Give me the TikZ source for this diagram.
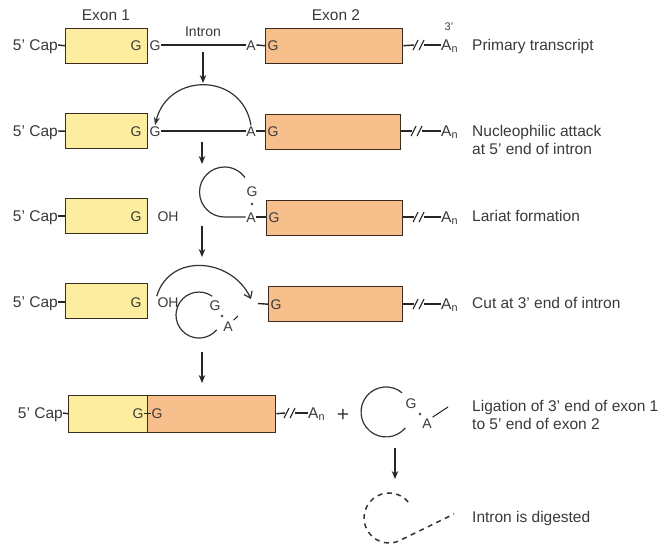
\documentclass[tikz,border=0pt]{standalone}
\usepackage{fontspec}
\setmainfont{Liberation Sans}
\usetikzlibrary{arrows.meta}
\definecolor{exonone}{HTML}{FCEE9E}
\definecolor{exontwo}{HTML}{F7BF8C}
\definecolor{boxline}{HTML}{3A2C1E}
\definecolor{txt}{HTML}{3A3A3A}
\begin{document}
\begin{tikzpicture}[x=1pt,y=-1pt,
  exa/.style={draw=boxline,line width=1.4pt,fill=exonone,minimum height=35pt,inner sep=0pt,anchor=north west},
  exb/.style={draw=boxline,line width=1.4pt,fill=exontwo,minimum height=35pt,inner sep=0pt,anchor=north west},
  lbl/.style={font=\fontsize{15.5}{18}\selectfont,text=txt,inner sep=0pt,text height=10.8pt,text depth=0pt},
  lbltwo/.style={font=\fontsize{15.5}{18}\selectfont,text=txt,inner sep=0pt,align=left,anchor=west},
  sym/.style={font=\fontsize{14}{16}\selectfont,text=txt,inner sep=0.6pt,text height=10pt,text depth=0pt},
  ln/.style={draw=black!85,line width=1.4pt},
  arr/.style={ln,-{Stealth[length=8pt,width=6.5pt]}},
  curv/.style={draw=black!80,line width=1.2pt},
  brk/.pic={\draw[draw=black!85,line width=1.1pt] (-1,5) -- (4,-5) (5,5) -- (10,-5);},
  dotmark/.style={fill=txt}
]
\fill[white] (0,0) rectangle (668,547);
\useasboundingbox (0,0) rectangle (668,547);

% ---------- Row 1 ----------
\node[lbl] (xa) at (106,15) {Exon 1};
\node[lbl] (xb) at (336,15) {Exon 2};
\node[exa,minimum width=82pt] (e1a) at (65,27.5) {};
\node[exb,minimum width=137pt] (e2a) at (265,27.5) {};
\node[lbl,anchor=east] (c1) at (58,45) {5' Cap};
\draw[ln] (c1.east) -- (e1a.west);
\node[sym] (gi1) at (136,45) {G};
\node[sym] (go1) at (155,45) {G};
\node[sym] (a1) at (251,45) {A};
\node[sym] (gj1) at (273,45) {G};
\node[lbl,font=\fontsize{14}{16}\selectfont] (intr) at (203,31) {Intron};
\draw[ln] (go1.east) -- (a1.west);
\draw[ln] (a1.east) -- (e2a.west);
\coordinate (b1) at (414,45);
\coordinate (b1r) at (424,45);
\node[lbl,anchor=west] (an1) at (441,45) {A\textsubscript{n}};
\draw[ln] (e2a.east) -- (b1);
\pic at (b1) {brk};
\draw[ln] (b1r) -- (an1.west);
\node[sym,font=\fontsize{11}{12}\selectfont] (p3) at (449,25) {3'};
\node[lbl,anchor=west] (t1) at (472,45) {Primary transcript};
\coordinate (d1a) at (203,52);
\coordinate (d1b) at (203,83);
\draw[arr] (d1a) -- (d1b);

% ---------- Row 2 ----------
\node[exa,minimum width=82pt] (e1b) at (65,113) {};
\node[exb,minimum width=135pt] (e2b) at (265,114) {};
\node[lbl,anchor=east] (c2) at (58,131) {5' Cap};
\draw[ln] (c2.east) -- (e1b.west);
\node[sym] (gi2) at (136,131) {G};
\node[sym] (go2) at (155,131) {G};
\node[sym] (a2) at (251,131) {A};
\node[sym] (gj2) at (273,131) {G};
\draw[ln] (go2.east) -- (a2.west);
\draw[ln] (a2.east) -- (e2b.west |- a2);
\draw[curv,-{Stealth[length=8pt,width=6pt]}] (a2.north) .. controls (242,72) and (168,72) .. (go2.north);
\coordinate (b2) at (412,131);
\coordinate (b2r) at (422,131);
\node[lbl,anchor=west] (an2) at (441,131) {A\textsubscript{n}};
\draw[ln] (e2b.east |- b2) -- (b2);
\pic at (b2) {brk};
\draw[ln] (b2r) -- (an2.west);
\node[lbltwo] (t2) at (472,140) {Nucleophilic attack\\at 5' end of intron};
\coordinate (d2a) at (202,142);
\coordinate (d2b) at (202,164);
\draw[arr] (d2a) -- (d2b);

% ---------- Row 3 ----------
\node[exa,minimum width=82pt] (e1c) at (65,198) {};
\node[exb,minimum width=136pt] (e2c) at (266,200) {};
\node[lbl,anchor=east] (c3) at (58,216) {5' Cap};
\draw[ln] (c3.east) -- (e1c.west |- c3);
\node[sym] (gi3) at (136,216) {G};
\node[sym] (oh3) at (168,216) {OH};
\node[sym] (a3) at (251,217) {A};
\node[sym] (gj3) at (274,217) {G};
\draw[ln] (a3.east) -- (e2c.west |- a3);
\draw[curv] (a3.west) -- ++(-21,0) arc[start angle=90,end angle=325,radius=25];
\node[sym] (gl3) at (252,191) {G};
\fill[dotmark] (252,204) circle (1.3pt);
\coordinate (b3) at (414,217);
\coordinate (b3r) at (424,217);
\node[lbl,anchor=west] (an3) at (441,217) {A\textsubscript{n}};
\draw[ln] (e2c.east |- b3) -- (b3);
\pic at (b3) {brk};
\draw[ln] (b3r) -- (an3.west);
\node[lbl,anchor=west] (t3) at (472,216) {Lariat formation};
\coordinate (d3a) at (202,226);
\coordinate (d3b) at (202,257);
\draw[arr] (d3a) -- (d3b);

% ---------- Row 4 ----------
\node[exa,minimum width=82pt] (e1d) at (65,283) {};
\node[exb,minimum width=134pt] (e2d) at (268,286) {};
\node[lbl,anchor=east] (c4) at (58,302) {5' Cap};
\draw[ln] (c4.east) -- (e1d.west |- c4);
\node[sym] (gi4) at (136,302) {G};
\node[sym] (oh4) at (168,302) {OH};
\node[sym] (gj4) at (276,304) {G};
\coordinate (cut4) at (258,303.5);
\draw[ln] (cut4) -- (e2d.west);
\coordinate (hit4) at (251,299);
\draw[curv,-{Straight Barb[length=6pt,width=9pt]}] (oh4.north west) .. controls (170,252) and (232,258) .. (hit4);
\draw[curv] (212.2,296.2) arc[start angle=-55,end angle=-320,radius=23];
\node[sym] (gl4) at (215,305) {G};
\fill[dotmark] (222,316) circle (1.3pt);
\node[sym] (al4) at (228,326) {A};
\coordinate (tk4) at (238,316);
\draw[ln,line width=1pt] (al4.north east) -- (tk4);
\coordinate (b4) at (414,304);
\coordinate (b4r) at (424,304);
\node[lbl,anchor=west] (an4) at (441,304) {A\textsubscript{n}};
\draw[ln] (e2d.east |- b4) -- (b4);
\pic at (b4) {brk};
\draw[ln] (b4r) -- (an4.west);
\node[lbl,anchor=west] (t4) at (472,303) {Cut at 3' end of intron};
\coordinate (d4a) at (202,352);
\coordinate (d4b) at (202,383);
\draw[arr] (d4a) -- (d4b);

% ---------- Row 5 ----------
\node[exa,minimum width=79pt,minimum height=37pt] (e1e) at (68,394.5) {};
\node[exb,minimum width=128pt,minimum height=37pt] (e2e) at (147,394.5) {};
\node[lbl,anchor=east] (c5) at (63,413) {5' Cap};
\draw[ln] (c5.east) -- (e1e.west);
\node[sym] (ge1) at (138,413) {G};
\node[sym] (ge2) at (157,413) {G};
\draw[ln,line width=1pt] (ge1.east) -- (ge2.west);
\coordinate (b5) at (285,413);
\coordinate (b5r) at (295,413);
\node[lbl,anchor=west] (an5) at (308,413) {A\textsubscript{n}};
\draw[ln] (e2e.east) -- (b5);
\pic at (b5) {brk};
\draw[ln] (b5r) -- (an5.west);
\node[lbl,font=\fontsize{21}{22}\selectfont,text height=14pt] (plus) at (343,414) {+};
\draw[curv] (402.1,392.8) arc[start angle=-50,end angle=-320,radius=25];
\node[sym] (gl5) at (411,403) {G};
\fill[dotmark] (420,414) circle (1.3pt);
\node[sym] (al5) at (427,423) {A};
\coordinate (tk5) at (448,407);
\draw[ln,line width=1pt] (al5.north east) -- (tk5);
\node[lbltwo] (t5) at (472,415) {Ligation of 3' end of exon 1\\to 5' end of exon 2};
\coordinate (d5a) at (395,448);
\coordinate (d5b) at (395,479);
\draw[arr] (d5a) -- (d5b);

% ---------- Row 6 ----------
\coordinate (dig) at (454,514);
\draw[curv,line width=1.5pt,dash pattern=on 5pt off 4.5pt] (408.2,501.9) arc[start angle=-40,end angle=-300,radius=25] -- (dig);
\node[lbl,anchor=west] (t6) at (472,517) {Intron is digested};
\end{tikzpicture}
\end{document}
